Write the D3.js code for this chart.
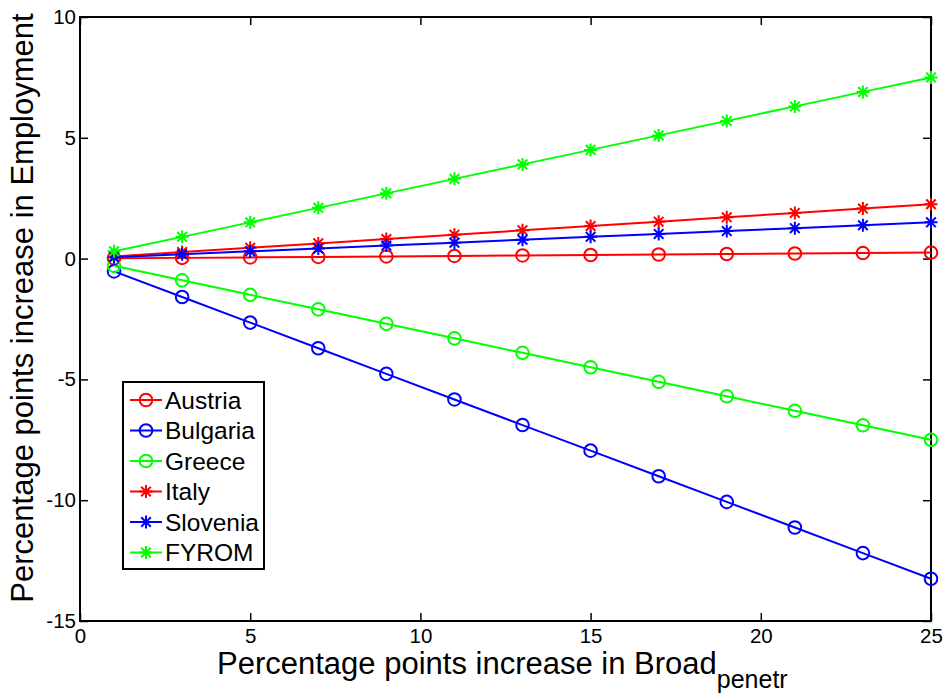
<!DOCTYPE html>
<html>
<head>
<meta charset="utf-8">
<script src="https://cdn.jsdelivr.net/npm/d3@7"></script>
<style>
  body { margin: 0; background: #fff; }
  text { font-family: "Liberation Sans", Arial, sans-serif; fill: #000; }
</style>
</head>
<body>
<svg id="chart"></svg>
<script>
// Data
const xValues = [1, 3, 5, 7, 9, 11, 13, 15, 17, 19, 21, 23, 25];
const austria  = [0.01, 0.03, 0.05, 0.07, 0.09, 0.11, 0.13, 0.15, 0.17, 0.19, 0.21, 0.23, 0.25];
const bulgaria = [-0.53, -1.59, -2.65, -3.71, -4.77, -5.83, -6.89, -7.95, -9.01, -10.07, -11.13, -12.19, -13.25];
const greece   = [-0.3, -0.9, -1.5, -2.1, -2.7, -3.3, -3.9, -4.5, -5.1, -5.7, -6.3, -6.9, -7.5];
const italy    = [0.09, 0.27, 0.45, 0.63, 0.81, 0.99, 1.17, 1.35, 1.53, 1.71, 1.89, 2.07, 2.25];
const slovenia = [0.06, 0.18, 0.30, 0.42, 0.54, 0.66, 0.78, 0.90, 1.02, 1.14, 1.26, 1.38, 1.50];
const fyrom    = [0.3, 0.9, 1.5, 2.1, 2.7, 3.3, 3.9, 4.5, 5.1, 5.7, 6.3, 6.9, 7.5];
const xTicks = [0, 5, 10, 15, 20, 25];
const yTicks = [-15, -10, -5, 0, 5, 10];

const series = [
  {name: "Austria",  values: austria,  color: "#ff0000", marker: "circle"},
  {name: "Bulgaria", values: bulgaria, color: "#0000ff", marker: "circle"},
  {name: "Greece",   values: greece,   color: "#00ff00", marker: "circle"},
  {name: "Italy",    values: italy,    color: "#ff0000", marker: "star"},
  {name: "Slovenia", values: slovenia, color: "#0000ff", marker: "star"},
  {name: "FYROM",    values: fyrom,    color: "#00ff00", marker: "star"}
];

const W = 945, H = 695;
let margin = {top: 17, right: 14, bottom: 74, left: 80},
    width = W - margin.left - margin.right,
    height = H - margin.top - margin.bottom;

let svg = d3.select("#chart").attr("width", W).attr("height", H);
let g = svg.append("g").attr("transform", "translate(" + margin.left + "," + margin.top + ")");

let x = d3.scaleLinear().domain([0, 25]).range([0, width]);
let y = d3.scaleLinear().domain([-15, 10]).range([height, 0]);

// Axes (MATLAB style: ticks inside, box all round), plain hyphen for minus
const tickLen = 8;
const fmt = d => String(d);
g.append("g")
    .attr("transform", "translate(0," + height + ")")
    .call(d3.axisBottom(x).tickValues(xTicks).tickFormat(fmt).tickSizeInner(-tickLen).tickSizeOuter(0).tickPadding(7))
    .call(a => a.selectAll("text").attr("font-size", 20.5));
g.append("g")
    .call(d3.axisTop(x).tickValues(xTicks).tickSizeInner(-tickLen).tickSizeOuter(0).tickFormat(""));
g.append("g")
    .call(d3.axisLeft(y).tickValues(yTicks).tickFormat(fmt).tickSizeInner(-tickLen).tickSizeOuter(0).tickPadding(4))
    .call(a => a.selectAll("text").attr("font-size", 20.5));
g.append("g")
    .attr("transform", "translate(" + width + ",0)")
    .call(d3.axisRight(y).tickValues(yTicks).tickSizeInner(-tickLen).tickSizeOuter(0).tickFormat(""));
g.selectAll(".domain").remove();
g.selectAll(".tick line").attr("stroke", "#000").attr("stroke-width", 1.5);
g.selectAll(".tick text").attr("fill", "#000");
g.append("rect")
    .attr("width", width).attr("height", height)
    .attr("fill", "none").attr("stroke", "#000").attr("stroke-width", 2);

let line = d3.line()
    .x((d, i) => x(xValues[i]))
    .y(d => y(d));

function drawMarker(sel, type, color) {
  if (type === "circle") {
    sel.append("circle").attr("r", 6.3).attr("fill", "none")
      .attr("stroke", color).attr("stroke-width", 2);
  } else {
    const r = 6.5, d = 4.8;
    sel.append("path")
      .attr("d", `M${-r},0L${r},0M0,${-r}L0,${r}M${-d},${-d}L${d},${d}M${-d},${d}L${d},${-d}`)
      .attr("stroke", color).attr("stroke-width", 2).attr("fill", "none");
  }
}

series.forEach(s => {
  g.append("path")
      .datum(s.values)
      .attr("fill", "none")
      .attr("stroke", s.color)
      .attr("stroke-width", 2)
      .attr("d", line);
  s.values.forEach((v, i) => {
    let m = g.append("g").attr("transform", "translate(" + x(xValues[i]) + "," + y(v) + ")");
    drawMarker(m, s.marker, s.color);
  });
});

// Legend
let legend = svg.append("g").attr("transform", "translate(123,382)");
legend.append("rect").attr("width", 141).attr("height", 187)
    .attr("fill", "#fff").attr("stroke", "#000").attr("stroke-width", 2);
series.forEach((s, i) => {
  let row = legend.append("g").attr("transform", "translate(0," + (18 + i * 30.5) + ")");
  row.append("line").attr("x1", 7).attr("x2", 39)
      .attr("stroke", s.color).attr("stroke-width", 2);
  let m = row.append("g").attr("transform", "translate(23,0)");
  drawMarker(m, s.marker, s.color);
  row.append("text").attr("x", 42).attr("y", 8.5).attr("font-size", 24.5).text(s.name);
});

// Axis titles
let xt = svg.append("text")
    .attr("x", 217).attr("y", 674)
    .attr("font-size", 31);
xt.append("tspan").text("Percentage points increase in Broad");
xt.append("tspan").attr("dy", 14).attr("font-size", 25).text("penetr");

svg.append("text")
    .attr("transform", "translate(33,308) rotate(-90)")
    .attr("text-anchor", "middle")
    .attr("font-size", 31)
    .text("Percentage points increase in Employment");
</script>
</body>
</html>
